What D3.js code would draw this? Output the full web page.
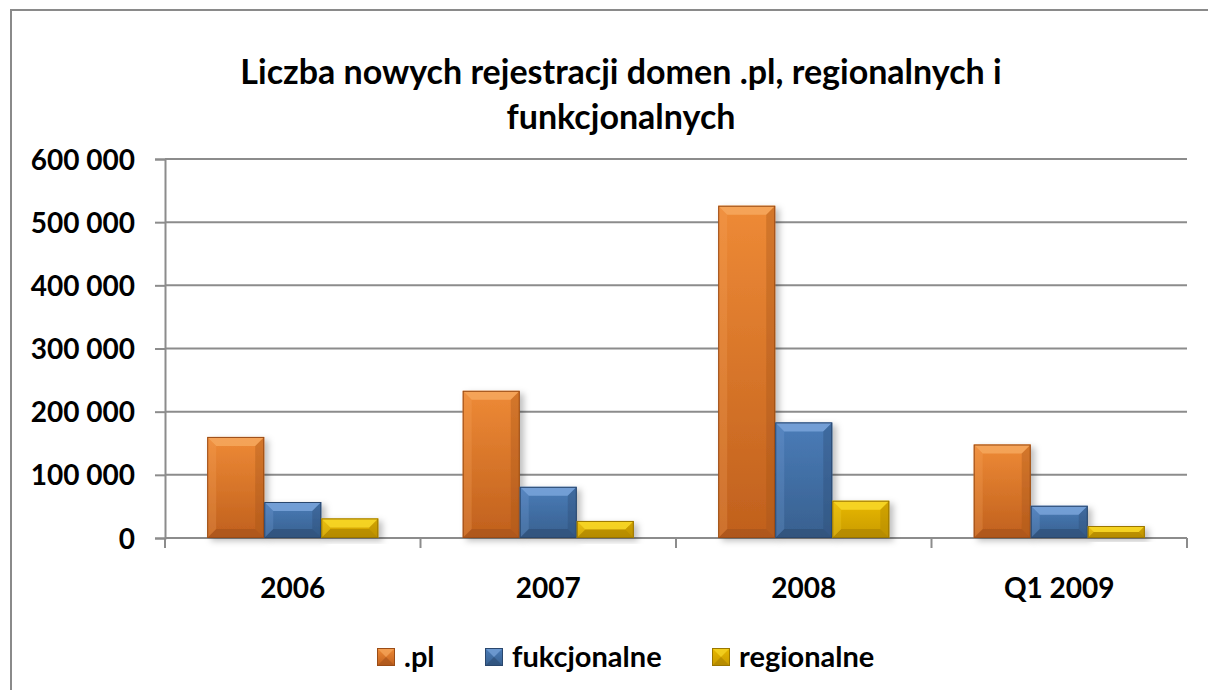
<!DOCTYPE html>
<html>
<head>
<meta charset="utf-8">
<script src="https://cdn.jsdelivr.net/npm/d3@7"></script>
<style>
	body { margin: 0; background: #fff; }
	svg text { font-family: Lato, "Open Sans", sans-serif; font-weight: bold; fill: #000; }
</style>
</head>
<body>
<svg id="chart" width="1208" height="690"></svg>
<script>
var categories = ['2006', '2007', '2008', 'Q1 2009'];
var seriesNames = ['.pl', 'fukcjonalne', 'regionalne'];
var plValues = [160000, 233000, 526000, 148000];
var funkValues = [57000, 81000, 183000, 51000];
var regValues = [31000, 27000, 59000, 19000];
var yTicks = [0, 100000, 200000, 300000, 400000, 500000, 600000];
var titleLines = ['Liczba nowych rejestracji domen .pl, regionalnych i', 'funkcjonalnych'];

// colours per series: main / light bevel / dark bevel
var palette = [
	{ top: '#ee8a36', bottom: '#c0601d', light: '#f6a85e', dark: '#a4521a', edge: '#9a4c16' },
	{ top: '#4a7cb8', bottom: '#38608f', light: '#7aa5db', dark: '#2b4b73', edge: '#2a476d' },
	{ top: '#e8b800', bottom: '#c89a00', light: '#f8d82a', dark: '#a98100', edge: '#9a7600' }
];

var svg = d3.select('#chart');
var margin = { left: 165, right: 1187, top: 159, bottom: 538 };

var rows = categories.map(function(c, i) {
	return { cat: c, values: [plValues[i], funkValues[i], regValues[i]] };
});

var x0 = d3.scaleBand().domain(categories).range([margin.left, margin.right]).paddingInner(0).paddingOuter(0);
var x1 = d3.scaleBand().domain(d3.range(seriesNames.length)).range([0, x0.bandwidth()]).paddingOuter(0.74).paddingInner(0);
var y = d3.scaleLinear().domain([0, 600000]).range([margin.bottom, margin.top]);

var fmt = function(v) { return d3.format(',')(v).replace(/,/g, ' '); };

// outer border
svg.append('rect')
	.attr('x', 11).attr('y', 10)
	.attr('width', 1300).attr('height', 800)
	.attr('fill', 'none').attr('stroke', '#8a8a8a').attr('stroke-width', 2);

// defs: gradients + shadow
var defs = svg.append('defs');
palette.forEach(function(p, i) {
	var g = defs.append('linearGradient').attr('id', 'grad' + i)
		.attr('x1', 0).attr('y1', 0).attr('x2', 0).attr('y2', 1);
	g.append('stop').attr('offset', '0%').attr('stop-color', p.top);
	g.append('stop').attr('offset', '100%').attr('stop-color', p.bottom);
});
var flt = defs.append('filter').attr('id', 'shadow').attr('x', '-20%').attr('y', '-20%').attr('width', '150%').attr('height', '150%');
flt.append('feDropShadow').attr('dx', 4).attr('dy', 3).attr('stdDeviation', 3).attr('flood-color', '#000').attr('flood-opacity', 0.25);

// title
svg.append('text')
	.attr('x', 621).attr('y', 84)
	.attr('text-anchor', 'middle')
	.style('font-size', '34px')
	.text(titleLines[0]);
svg.append('text')
	.attr('x', 621).attr('y', 129)
	.attr('text-anchor', 'middle')
	.style('font-size', '34px')
	.text(titleLines[1]);

// gridlines
svg.append('g').selectAll('line')
	.data(yTicks.filter(function(t) { return t > 0; }))
	.enter().append('line')
	.attr('x1', margin.left).attr('x2', margin.right)
	.attr('y1', function(d) { return y(d); }).attr('y2', function(d) { return y(d); })
	.attr('stroke', '#8c8c8c').attr('stroke-width', 2);

// y axis
var yAxis = svg.append('g')
	.attr('transform', 'translate(' + margin.left + ',0)')
	.call(d3.axisLeft(y).tickValues(yTicks).tickFormat(fmt).tickSize(10).tickPadding(20));
yAxis.select('.domain').attr('stroke', '#8c8c8c').attr('stroke-width', 2);
yAxis.selectAll('.tick line').attr('stroke', '#8c8c8c').attr('stroke-width', 2);
yAxis.selectAll('.tick text')
	.style('font-size', '28px').attr('fill', '#000').attr('dy', '0.36em');

// x axis
var xAxisG = svg.append('g').attr('transform', 'translate(0,' + margin.bottom + ')');
xAxisG.append('line')
	.attr('x1', margin.left).attr('x2', margin.right)
	.attr('stroke', '#8c8c8c').attr('stroke-width', 2);
var bounds = categories.map(function(c) { return x0(c); }).concat([margin.right]);
xAxisG.selectAll('.xt').data(bounds).enter().append('line')
	.attr('class', 'xt')
	.attr('x1', function(d) { return d; }).attr('x2', function(d) { return d; })
	.attr('y1', 0).attr('y2', 10)
	.attr('stroke', '#8c8c8c').attr('stroke-width', 2);
xAxisG.selectAll('.xl').data(categories).enter().append('text')
	.attr('class', 'xl')
	.attr('x', function(d) { return x0(d) + x0.bandwidth() / 2; })
	.attr('y', 60)
	.attr('text-anchor', 'middle')
	.style('font-size', '28px')
	.text(function(d) { return d; });

// bevelled bar
function drawBar(g, bx, by, bw, bh, p, i) {
	var b = Math.min(9, bh / 2, bw / 2);
	var bar = g.append('g').attr('filter', 'url(#shadow)');
	bar.append('rect').attr('x', bx).attr('y', by).attr('width', bw).attr('height', bh)
		.attr('fill', 'url(#grad' + i + ')');
	// top bevel
	bar.append('polygon')
		.attr('points', [[bx, by], [bx + bw, by], [bx + bw - b, by + b], [bx + b, by + b]].join(' '))
		.attr('fill', p.light).attr('opacity', 0.85);
	// bottom bevel
	bar.append('polygon')
		.attr('points', [[bx, by + bh], [bx + bw, by + bh], [bx + bw - b, by + bh - b], [bx + b, by + bh - b]].join(' '))
		.attr('fill', p.dark).attr('opacity', 0.6);
	// left bevel
	bar.append('polygon')
		.attr('points', [[bx, by], [bx + b, by + b], [bx + b, by + bh - b], [bx, by + bh]].join(' '))
		.attr('fill', p.light).attr('opacity', 0.25);
	// right bevel
	bar.append('polygon')
		.attr('points', [[bx + bw, by], [bx + bw - b, by + b], [bx + bw - b, by + bh - b], [bx + bw, by + bh]].join(' '))
		.attr('fill', p.dark).attr('opacity', 0.35);
	bar.append('rect').attr('x', bx + 0.5).attr('y', by + 0.5).attr('width', bw - 1).attr('height', bh - 1)
		.attr('fill', 'none').attr('stroke', p.edge).attr('stroke-width', 1);
}

var barsG = svg.append('g');
rows.forEach(function(r) {
	r.values.forEach(function(v, i) {
		var bx = x0(r.cat) + x1(i);
		var by = y(v);
		drawBar(barsG, bx, by, x1.bandwidth(), y(0) - by, palette[i], i);
	});
});

// legend
var legendX = [377, 485, 712];
var legend = svg.append('g');
seriesNames.forEach(function(name, i) {
	var p = palette[i];
	var lx = legendX[i], ly = 648, s = 18;
	var lg = legend.append('g');
	lg.append('rect').attr('x', lx).attr('y', ly).attr('width', s).attr('height', s).attr('fill', 'url(#grad' + i + ')');
	lg.append('polygon').attr('points', [[lx, ly], [lx + s, ly], [lx + s / 2, ly + s / 2]].join(' ')).attr('fill', p.light).attr('opacity', 0.7);
	lg.append('polygon').attr('points', [[lx, ly + s], [lx + s, ly + s], [lx + s / 2, ly + s / 2]].join(' ')).attr('fill', p.dark).attr('opacity', 0.6);
	lg.append('rect').attr('x', lx + 0.5).attr('y', ly + 0.5).attr('width', s - 1).attr('height', s - 1).attr('fill', 'none').attr('stroke', p.edge);
	lg.append('text').attr('x', lx + s + 9).attr('y', ly + s + 1)
		.style('font-size', '29px')
		.text(name);
});
</script>
</body>
</html>
